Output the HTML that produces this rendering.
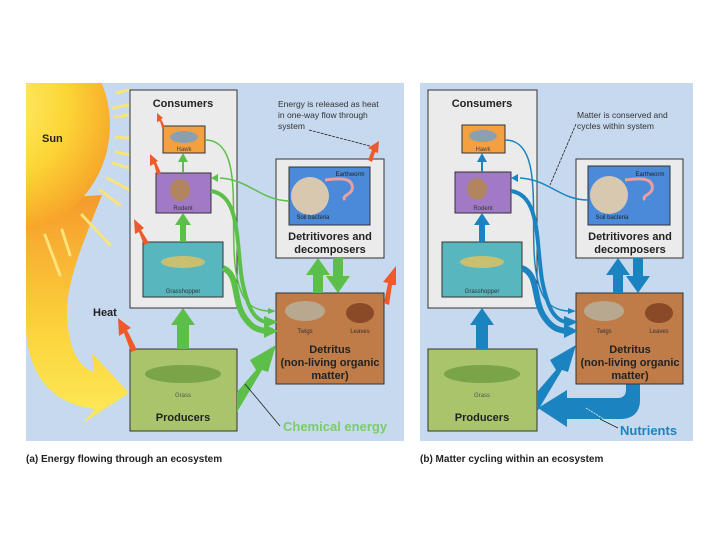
<!DOCTYPE html>
<html><head><style>
html,body{margin:0;padding:0;background:#fff;}
svg{display:block;}
text{font-family:"Liberation Sans",sans-serif;}
</style></head><body>
<svg width="720" height="540" viewBox="0 0 720 540" xmlns="http://www.w3.org/2000/svg">
<defs>
<radialGradient id="sun" cx="0.45" cy="0.4" r="0.6">
<stop offset="0" stop-color="#fff27a"/><stop offset="0.6" stop-color="#fcd535"/><stop offset="1" stop-color="#f7a62a"/>
</radialGradient>
<linearGradient id="tail" x1="0" y1="0" x2="0" y2="1">
<stop offset="0" stop-color="#f59a2c"/><stop offset="0.6" stop-color="#fcd43c"/><stop offset="1" stop-color="#fde95a"/>
</linearGradient>
<clipPath id="pa"><rect x="26" y="83" width="378" height="358"/></clipPath>
</defs>
<rect width="720" height="540" fill="#fff"/>
<!-- Panel A -->
<rect x="26" y="83" width="378" height="358" fill="#c6d9ee"/>
<g clip-path="url(#pa)">
<path d="M26 200 L26 330 C30 385 60 405 95 409 L83 423 L129 393 L92 353 L94 372 C75 366 67 340 67 310 C68 280 80 250 102 195 Z" fill="url(#tail)"/>
<circle cx="0" cy="125" r="110" fill="url(#sun)"/>
<g stroke="#f8e47a" stroke-width="3" stroke-linecap="round">
<line x1="117" y1="93" x2="128" y2="90"/><line x1="113" y1="108" x2="128" y2="105"/><line x1="115" y1="117" x2="128" y2="115"/>
<line x1="116" y1="137" x2="145" y2="140"/><line x1="116" y1="152" x2="130" y2="155"/><line x1="113" y1="163" x2="135" y2="170"/>
<line x1="107" y1="178" x2="147" y2="199"/><line x1="100" y1="190" x2="120" y2="205"/><line x1="82" y1="215" x2="110" y2="245"/>
<line x1="62" y1="230" x2="70" y2="255"/><line x1="45" y1="235" x2="60" y2="275"/>
</g>
</g>
<text x="42" y="142" font-size="11" font-weight="bold" fill="#222">Sun</text>
<text x="93" y="316" font-size="11" font-weight="bold" fill="#222">Heat</text>
<!-- consumers -->
<rect x="130" y="90" width="107" height="218" fill="#ebebeb" stroke="#333" stroke-width="1"/>
<text x="183" y="107" font-size="11" font-weight="bold" text-anchor="middle" fill="#222">Consumers</text>
<rect x="163" y="126" width="42" height="27" fill="#f5a040" stroke="#333"/>
<ellipse cx="184" cy="137" rx="14" ry="6" fill="#8aa0b0"/>
<text x="184" y="151" font-size="6" text-anchor="middle" fill="#444">Hawk</text>
<rect x="156" y="173" width="55" height="40" fill="#a279c5" stroke="#333"/>
<ellipse cx="180" cy="190" rx="10" ry="11" fill="#b08560"/>
<text x="183" y="210" font-size="6" text-anchor="middle" fill="#333">Rodent</text>
<rect x="143" y="242" width="80" height="55" fill="#58b6be" stroke="#333"/>
<ellipse cx="183" cy="262" rx="22" ry="6" fill="#c8c070"/>
<text x="183" y="293" font-size="6" text-anchor="middle" fill="#333">Grasshopper</text>
<rect x="130" y="349" width="107" height="82" fill="#a9c46a" stroke="#333"/>
<ellipse cx="183" cy="374" rx="38" ry="9" fill="#7aa448"/>
<text x="183" y="397" font-size="6" text-anchor="middle" fill="#555">Grass</text>
<text x="183" y="421" font-size="11" font-weight="bold" text-anchor="middle" fill="#222">Producers</text>
<rect x="276" y="159" width="108" height="99" fill="#ebebeb" stroke="#333"/>
<rect x="289" y="167" width="81" height="58" fill="#4a8ad8" stroke="#333"/>
<circle cx="310" cy="196" r="19" fill="#d8c8b0"/>
<path d="M325 180 C340 178 350 178 352 185 C355 195 340 195 345 200" stroke="#e8a0a0" stroke-width="3" fill="none"/>
<text x="350" y="176" font-size="6" text-anchor="middle" fill="#222">Earthworm</text>
<text x="313" y="219" font-size="6" text-anchor="middle" fill="#222">Soil bacteria</text>
<text x="330" y="240" font-size="11" font-weight="bold" text-anchor="middle" fill="#222">Detritivores and</text>
<text x="330" y="253" font-size="11" font-weight="bold" text-anchor="middle" fill="#222">decomposers</text>
<rect x="276" y="293" width="108" height="91" fill="#c07c48" stroke="#333"/>
<ellipse cx="305" cy="311" rx="20" ry="10" fill="#b8a890"/>
<ellipse cx="360" cy="313" rx="14" ry="10" fill="#8a4a28"/>
<text x="305" y="333" font-size="6" text-anchor="middle" fill="#333">Twigs</text>
<text x="360" y="333" font-size="6" text-anchor="middle" fill="#333">Leaves</text>
<text x="330" y="353" font-size="11" font-weight="bold" text-anchor="middle" fill="#222">Detritus</text>
<text x="330" y="366" font-size="11" font-weight="bold" text-anchor="middle" fill="#222">(non-living organic</text>
<text x="330" y="379" font-size="11" font-weight="bold" text-anchor="middle" fill="#222">matter)</text>
<!-- green arrows A -->
<g fill="#5cbf4a" stroke="none">
<polygon points="177,349 177,325 171,325 183,308 195,325 189,325 189,349"/>
<polygon points="180,242 180,225 175,225 183,213 191,225 186,225 186,242"/>
<polygon points="182,172 182,162 178,162 183,153 188,162 184,162 184,172"/>
<polygon points="313,293 313,275 306,275 318,258 330,275 323,275 323,293"/>
<polygon points="333,258 333,276 326,276 338,293 350,276 343,276 343,258"/>
<polygon points="237,392 256,370 250,360 276,345 268,372 262,370 237,412"/>
</g>
<g fill="none" stroke="#5cbf4a">
<path d="M223 268 C240 275 232 300 245 318 C252 328 258 330 266 331" stroke-width="6"/>
<path d="M211 191 C240 195 236 240 242 280 C248 310 255 320 266 322" stroke-width="4"/>
<path d="M205 140 C240 140 232 200 234 250 C236 300 250 310 268 311" stroke-width="1.5"/>
<path d="M289 201 C260 200 250 180 220 178" stroke-width="1.5"/>
</g>
<g fill="#5cbf4a">
<polygon points="264,324 278,331 264,338"/>
<polygon points="264,316 278,322 264,328"/>
<polygon points="268,308 276,311 268,314"/>
<polygon points="218,174 211,178 218,182"/>
</g>
<!-- heat arrows -->
<g fill="#ee5a2a">
<polygon points="131,352 124,333 119,336 118,318 131,328 127,330 137,350"/>
<polygon points="144,245 139,232 135,234 134,219 144,228 141,230 149,243"/>
<polygon points="157,175 154,164 150,166 150,154 158,161 156,162 161,173"/>
<polygon points="162,128 160,121 157,122 157,113 163,118 161,119 165,127"/>
<polygon points="368,160 372,150 368,148 379,141 378,153 375,152 372,162"/>
<polygon points="384,303 388,283 383,282 396,266 396,285 392,285 389,305"/>
</g>
<text x="278" y="107" font-size="8.5" fill="#333">Energy is released as heat</text>
<text x="278" y="118" font-size="8.5" fill="#333">in one-way flow through</text>
<text x="278" y="129" font-size="8.5" fill="#333">system</text>
<line x1="309" y1="130" x2="370" y2="146" stroke="#222" stroke-width="0.8" stroke-dasharray="3,1"/>
<line x1="245" y1="384" x2="280" y2="426" stroke="#222" stroke-width="0.8"/>
<text x="283" y="431" font-size="13" font-weight="bold" fill="#7ccc6a">Chemical energy</text>
<text x="26" y="462" font-size="10" font-weight="bold" fill="#222">(a) Energy flowing through an ecosystem</text>

<!-- Panel B -->
<rect x="420" y="83" width="273" height="358" fill="#c6d9ee"/>
<rect x="428" y="90" width="109" height="218" fill="#ebebeb" stroke="#333"/>
<text x="482" y="107" font-size="11" font-weight="bold" text-anchor="middle" fill="#222">Consumers</text>
<rect x="462" y="125" width="43" height="28" fill="#f5a040" stroke="#333"/>
<ellipse cx="483" cy="136" rx="14" ry="6" fill="#8aa0b0"/>
<text x="483" y="151" font-size="6" text-anchor="middle" fill="#444">Hawk</text>
<rect x="455" y="172" width="56" height="41" fill="#a279c5" stroke="#333"/>
<ellipse cx="477" cy="189" rx="10" ry="11" fill="#b08560"/>
<text x="483" y="210" font-size="6" text-anchor="middle" fill="#333">Rodent</text>
<rect x="442" y="242" width="80" height="55" fill="#58b6be" stroke="#333"/>
<ellipse cx="482" cy="262" rx="22" ry="6" fill="#c8c070"/>
<text x="482" y="293" font-size="6" text-anchor="middle" fill="#333">Grasshopper</text>
<rect x="428" y="349" width="109" height="82" fill="#a9c46a" stroke="#333"/>
<ellipse cx="482" cy="374" rx="38" ry="9" fill="#7aa448"/>
<text x="482" y="397" font-size="6" text-anchor="middle" fill="#555">Grass</text>
<text x="482" y="421" font-size="11" font-weight="bold" text-anchor="middle" fill="#222">Producers</text>
<rect x="576" y="159" width="107" height="99" fill="#ebebeb" stroke="#333"/>
<rect x="588" y="166" width="82" height="59" fill="#4a8ad8" stroke="#333"/>
<circle cx="609" cy="195" r="19" fill="#d8c8b0"/>
<path d="M625 180 C640 178 650 178 652 185 C655 195 640 195 645 200" stroke="#e8a0a0" stroke-width="3" fill="none"/>
<text x="650" y="176" font-size="6" text-anchor="middle" fill="#222">Earthworm</text>
<text x="612" y="219" font-size="6" text-anchor="middle" fill="#222">Soil bacteria</text>
<text x="630" y="240" font-size="11" font-weight="bold" text-anchor="middle" fill="#222">Detritivores and</text>
<text x="630" y="253" font-size="11" font-weight="bold" text-anchor="middle" fill="#222">decomposers</text>
<g fill="#1b84c0">
<path d="M626 382 L640 382 L640 400 C640 413 632 419 620 419 L567 419 L567 427 L538 408 L567 390 L567 398 L618 398 C623 398 626 395 626 390 Z"/>
</g>
<rect x="576" y="293" width="107" height="91" fill="#c07c48" stroke="#333"/>
<ellipse cx="604" cy="311" rx="20" ry="10" fill="#b8a890"/>
<ellipse cx="659" cy="313" rx="14" ry="10" fill="#8a4a28"/>
<text x="604" y="333" font-size="6" text-anchor="middle" fill="#333">Twigs</text>
<text x="659" y="333" font-size="6" text-anchor="middle" fill="#333">Leaves</text>
<text x="630" y="353" font-size="11" font-weight="bold" text-anchor="middle" fill="#222">Detritus</text>
<text x="630" y="366" font-size="11" font-weight="bold" text-anchor="middle" fill="#222">(non-living organic</text>
<text x="630" y="379" font-size="11" font-weight="bold" text-anchor="middle" fill="#222">matter)</text>
<g fill="#1b84c0">
<polygon points="476,349 476,325 470,325 482,308 494,325 488,325 488,349"/>
<polygon points="479,242 479,225 474,225 482,213 490,225 485,225 485,242"/>
<polygon points="481,172 481,162 477,162 482,153 487,162 483,162 483,172"/>
<polygon points="613,293 613,275 606,275 618,258 630,275 623,275 623,293"/>
<polygon points="633,258 633,276 626,276 638,293 650,276 643,276 643,258"/>
<polygon points="537,392 556,370 550,360 576,345 568,372 562,370 537,412"/>
</g>
<g fill="none" stroke="#1b84c0">
<path d="M522 268 C540 275 532 300 545 318 C552 328 558 330 566 331" stroke-width="6"/>
<path d="M511 191 C540 195 536 240 542 280 C548 310 555 320 566 322" stroke-width="4"/>
<path d="M505 140 C540 140 532 200 534 250 C536 300 550 310 568 311" stroke-width="1.5"/>
<path d="M588 200 C560 200 550 180 520 178" stroke-width="1.5"/>
</g>
<g fill="#1b84c0">
<polygon points="564,324 578,331 564,338"/>
<polygon points="564,316 578,322 564,328"/>
<polygon points="568,308 576,311 568,314"/>
<polygon points="518,174 511,178 518,182"/>
</g>
<text x="577" y="118" font-size="8.5" fill="#333">Matter is conserved and</text>
<text x="577" y="129" font-size="8.5" fill="#333">cycles within system</text>
<line x1="576" y1="124" x2="550" y2="185" stroke="#222" stroke-width="0.8" stroke-dasharray="3,1"/>
<line x1="586" y1="408" x2="618" y2="428" stroke="#e8f0f8" stroke-width="0.8" stroke-dasharray="2,1"/>
<line x1="600" y1="419" x2="618" y2="428" stroke="#222" stroke-width="0.8"/>
<text x="620" y="435" font-size="13" font-weight="bold" fill="#1b84c0">Nutrients</text>
<text x="420" y="462" font-size="10" font-weight="bold" fill="#222">(b) Matter cycling within an ecosystem</text>
</svg>
</body></html>
